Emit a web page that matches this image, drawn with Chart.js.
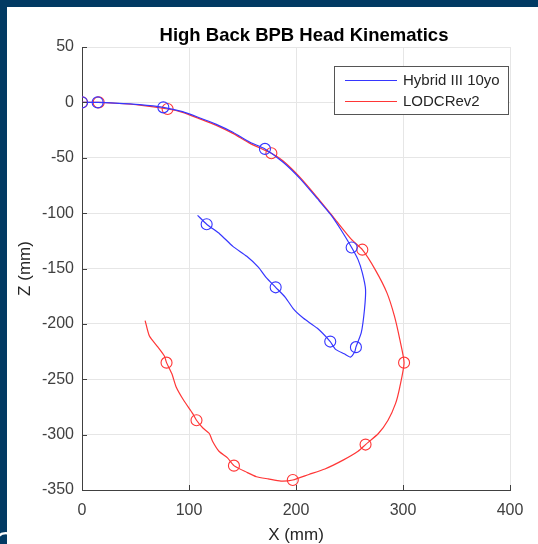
<!DOCTYPE html>
<html>
<head>
<meta charset="utf-8">
<script src="https://cdn.jsdelivr.net/npm/chart.js@4.4.1/dist/chart.umd.min.js"></script>
<style>
  html, body { margin: 0; padding: 0; background: #ffffff; }
  #wrap { width: 538px; height: 544px; position: relative; }
</style>
</head>
<body>
<div id="wrap"><canvas id="kin" width="538" height="544"></canvas></div>
<script>
// head trajectory, X / Z in mm
var hybridX = [0, 14.6, 31, 54, 76, 94, 109, 125, 141, 157, 171, 188, 204, 220, 233, 242, 252, 258, 262, 265,
  264, 261, 256, 255, 251, 245, 237, 232, 220, 207, 198, 190, 181, 172, 165, 154, 141, 129, 116.5, 108]
var hybridZ = [0, 0, -0.6, -2, -4.5, -8.4, -13.6, -19.6, -27, -36, -42, -54, -69, -87, -102, -115, -131, -142, -154, -169,
  -187, -208, -221, -225, -230, -227, -223, -216, -204, -195, -187, -176, -167, -158, -149, -139, -130, -119, -110, -102]
var hybridMarks = [0, 1, 4, 10, 16, 22, 27, 32, 38]

var lodcX = [0, 15.6, 31, 54, 80, 94, 109, 125, 141, 157, 177, 188, 204, 220, 236, 252, 262, 274, 285, 292,
  297, 301, 297, 293, 286, 277, 265, 258, 244, 227, 212, 197, 186, 174, 163, 154, 142, 136, 128, 122,
  119, 113, 107, 103.5, 95, 88, 84, 79, 77, 71, 63, 59]
var lodcZ = [0, 0, -0.8, -2.5, -6, -9, -14.5, -20.5, -28, -37, -46, -53, -68, -86, -105, -124, -133, -151, -172, -193,
  -214, -235, -257, -272, -287, -299, -309, -315, -323, -331, -336, -341, -342, -340, -338, -334, -328, -321, -315, -306,
  -299, -294, -287, -281, -269, -257, -245, -235, -229, -221, -211, -197]
var lodcMarks = [0, 1, 4, 10, 16, 21, 26, 31, 36, 42, 47]

var seriesNames = ['Hybrid III 10yo', 'LODCRev2']
var xTicks = [0, 100, 200, 300, 400]
var zTicks = [50, 0, -50, -100, -150, -200, -250, -300, -350]

var FONT = "'Liberation Sans', Arial, sans-serif"
var BLUE = '#3636ff'
var RED = '#ff3636'

function toPoints(xs, zs) {
  return xs.map(function(x, i) { return {x: x, y: zs[i]} })
}

function markRadius(marks) {
  return function(ctx) { return marks.indexOf(ctx.dataIndex) >= 0 ? 5.5 : 0 }
}

// navy frame, title, inward ticks and the boxed legend
var decor = {
  id: 'decor',
  beforeDraw: function(chart) {
    var c = chart.ctx
    c.save()
    c.fillStyle = '#ffffff'
    c.fillRect(0, 0, chart.width, chart.height)
    c.fillStyle = '#023a63'
    c.fillRect(0, 0, chart.width, 7)
    c.fillRect(0, 0, 7, chart.height)
    c.fillStyle = '#ffffff'
    c.font = '30px ' + FONT
    c.textBaseline = 'alphabetic'
    c.fillText('C', -6, 552)
    c.restore()
  },
  afterDraw: function(chart) {
    var c = chart.ctx
    var a = chart.chartArea
    var xs = chart.scales.x, ys = chart.scales.y
    c.save()
    c.fillStyle = '#000000'
    c.font = 'bold 18.5px ' + FONT
    c.textAlign = 'center'
    c.textBaseline = 'alphabetic'
    c.fillText('High Back BPB Head Kinematics', 304, 41)

    c.strokeStyle = '#404040'
    c.lineWidth = 1
    c.beginPath()
    xTicks.forEach(function(v) {
      var px = Math.round(xs.getPixelForValue(v)) + 0.5
      c.moveTo(px, a.bottom)
      c.lineTo(px, a.bottom - 5)
    })
    zTicks.forEach(function(v) {
      var py = Math.round(ys.getPixelForValue(v)) + 0.5
      c.moveTo(a.left, py)
      c.lineTo(a.left + 5, py)
    })
    c.stroke()

    // legend box
    var bx = 334, by = 66, bw = 174, bh = 48
    c.fillStyle = '#ffffff'
    c.fillRect(bx, by, bw, bh)
    c.strokeStyle = '#555555'
    c.strokeRect(bx + 0.5, by + 0.5, bw, bh)
    c.font = '15px ' + FONT
    c.textAlign = 'left'
    c.textBaseline = 'middle'
    chart.data.datasets.forEach(function(ds, i) {
      var ly = by + 14 + i * 21 + 0.5
      c.strokeStyle = ds.borderColor
      c.beginPath()
      c.moveTo(bx + 11, ly)
      c.lineTo(bx + 63, ly)
      c.stroke()
      c.fillStyle = '#262626'
      c.fillText(ds.label, bx + 69, ly)
    })
    c.restore()
  }
}

new Chart(document.getElementById('kin'), {
  type: 'scatter',
  data: {
    datasets: [
      {
        label: seriesNames[0],
        data: toPoints(hybridX, hybridZ),
        showLine: true,
        borderColor: BLUE,
        borderWidth: 1.2,
        backgroundColor: 'rgba(0,0,0,0)',
        pointBorderColor: BLUE,
        pointBorderWidth: 1.1,
        pointRadius: markRadius(hybridMarks),
        tension: 0.2
      },
      {
        label: seriesNames[1],
        data: toPoints(lodcX, lodcZ),
        showLine: true,
        borderColor: RED,
        borderWidth: 1.2,
        backgroundColor: 'rgba(0,0,0,0)',
        pointBorderColor: RED,
        pointBorderWidth: 1.1,
        pointRadius: markRadius(lodcMarks),
        tension: 0.2
      }
    ]
  },
  options: {
    responsive: false,
    animation: false,
    layout: { padding: { left: 0, right: 28, top: 47, bottom: 0 } },
    plugins: {
      legend: { display: false },
      title: { display: false },
      tooltip: { enabled: false }
    },
    scales: {
      x: {
        type: 'linear',
        min: 0,
        max: 400,
        afterFit: function(s) { s.height = 54 },
        afterBuildTicks: function(s) { s.ticks = xTicks.map(function(v) { return {value: v} }) },
        ticks: { color: '#404040', font: { family: FONT, size: 16 }, padding: 11 },
        grid: { color: '#e6e6e6', drawTicks: false },
        border: { display: true, color: '#404040' },
        title: { display: true, text: 'X (mm)', color: '#262626', font: { family: FONT, size: 17, lineHeight: 1 }, padding: { top: 0, bottom: 0 } }
      },
      y: {
        type: 'linear',
        min: -350,
        max: 50,
        afterFit: function(s) { s.width = 82 },
        afterBuildTicks: function(s) { s.ticks = zTicks.map(function(v) { return {value: v} }) },
        ticks: { color: '#404040', font: { family: FONT, size: 16 }, padding: 8 },
        grid: { color: '#e6e6e6', drawTicks: false },
        border: { display: true, color: '#404040' },
        title: { display: true, text: 'Z (mm)', color: '#262626', font: { family: FONT, size: 17, lineHeight: 1 }, padding: { top: 17, bottom: 0 } }
      }
    }
  },
  plugins: [decor]
})
</script>
</body>
</html>
